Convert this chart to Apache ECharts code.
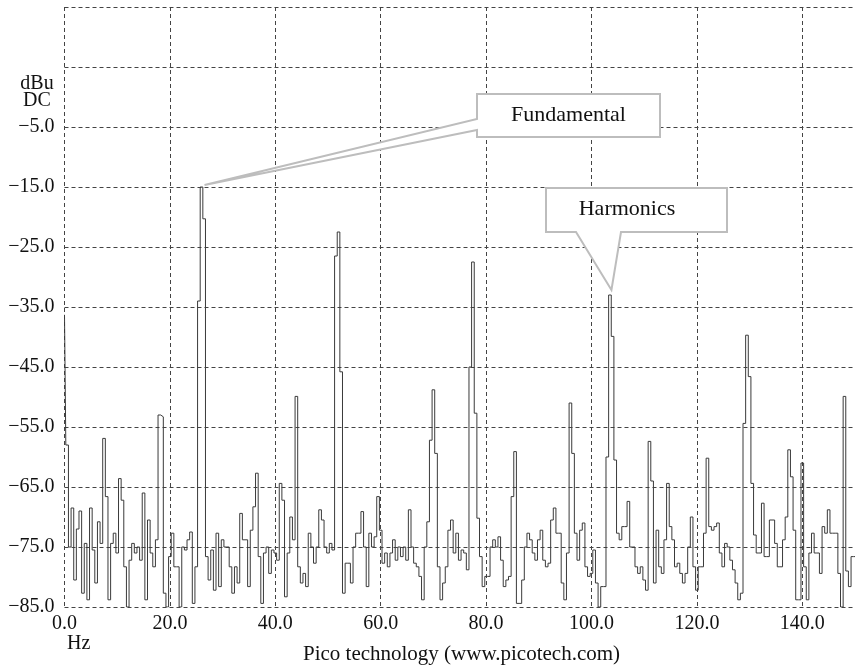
<!DOCTYPE html>
<html><head><meta charset="utf-8">
<script src="https://cdn.jsdelivr.net/npm/echarts@6/dist/echarts.min.js"></script>
<style>html,body{margin:0;padding:0;background:#fff}#c{width:855px;height:667px}</style>
</head><body><div id="c"></div>
<script>
// ---- data ----
const freqStart = 0;
const freqStep = 0.5;          // Hz per bin
const levels = [               // dBu per bin
 -36.3,-58,-75,-68.5,-80.5,-72,-69,-82.7,-74.4,-83.8,
 -68.5,-75.5,-81,-70.8,-74.4,-56.9,-66.6,-83.8,-74.4,-72.7,
 -76,-63.6,-67.2,-78.3,-85,-77.2,-74.4,-76,-75,-77.2,
 -66,-83.8,-70.5,-76,-78.3,-73.8,-53,-53.3,-82.7,-85,
 -76.6,-72.7,-78.3,-78.3,-85,-75,-75.5,-73.8,-72.5,-84.4,
 -78.3,-34,-15,-20.3,-76.6,-80.5,-75.5,-82.2,-72.7,-81.6,
 -73.8,-75,-75,-78.3,-82.7,-78.3,-81,-69.4,-73.8,-73.8,
 -81.6,-72.2,-68.3,-62.7,-76.6,-84.4,-76,-75,-79.4,-75.5,
 -76,-77.2,-64.4,-67.2,-83.3,-76,-70,-73.8,-49.9,-78.3,
 -81,-79.4,-81.6,-72.7,-75,-77.7,-75,-68.8,-70.5,-75,
 -76,-74.4,-75.5,-26.5,-22.5,-45.8,-82.7,-77.7,-77.7,-81,
 -75,-72.7,-72.7,-69.1,-75,-81.6,-72.7,-75,-73.3,-66.6,
 -72.2,-77.7,-76,-78.3,-76,-73.8,-77.2,-75,-76.6,-75,
 -77.2,-68.8,-75,-77.7,-78.3,-79.9,-83.8,-75,-70.8,-57.2,
 -48.8,-59.4,-78.3,-83.8,-81,-78.3,-72.2,-70.5,-76,-72.7,
 -77.2,-75.5,-76,-78.8,-45,-27.5,-52.7,-70.2,-76.6,-81.6,
 -79.9,-79.9,-75,-73.8,-75,-73.3,-77.2,-81.6,-80.5,-79.9,
 -66.6,-59.1,-84.4,-84.4,-80.5,-75,-72.7,-73.8,-76,-77.2,
 -73.8,-72.2,-77.2,-78.3,-77.7,-70.5,-68.5,-72.7,-72.7,-81,
 -83.8,-76,-51,-59.4,-72.7,-77.2,-72.2,-71,-78.3,-79.9,
 -79.4,-75.5,-81,-85,-81.6,-81.6,-60,-33,-39.9,-60.5,
 -72.7,-73.8,-71.6,-71.6,-67.4,-75,-75,-78.3,-79.4,-78.3,
 -80.5,-82.2,-57.4,-64,-81,-72.2,-78.3,-79.4,-73.8,-64.4,
 -71.6,-73.8,-78.3,-77.7,-79.4,-81,-79.4,-75,-70,-78.3,
 -82.2,-78.3,-78.3,-72.7,-60.2,-71.6,-72.2,-71.6,-71,-76,
 -78.3,-74.4,-75,-77.2,-78.8,-81,-83.8,-82.7,-54.4,-39.7,
 -46.6,-64.4,-73,-76,-76,-67.7,-76.6,-76.6,-70.5,-70.5,
 -74.4,-78.3,-78.3,-73.8,-70,-58.8,-63.3,-72.2,-83.8,-83.8,
 -61,-78.3,-83.8,-76,-72.7,-76,-76,-79.4,-71.6,-72.7,
 -68.8,-72.7,-72.7,-72.7,-79.4,-85,-49.9,-79,-81.6,-76.6,
 -76.6
];
const xTicks = [0, 20, 40, 60, 80, 100, 120, 140];
const yTicks = [-85, -75, -65, -55, -45, -35, -25, -15, -5];
const yUnitLines = ['dBu', 'DC'];
const xUnit = 'Hz';
const footer = 'Pico technology (www.picotech.com)';
const fundamental = { text: 'Fundamental', freq: 26, level: -15 };
const harmonic = { text: 'Harmonics', freq: 103.5, level: -33 };

// ---- chart ----
const FONT = 'Liberation Serif';
const chart = echarts.init(document.getElementById('c'), null, { renderer: 'canvas' });
const seriesData = levels.map((v, i) => [freqStart + i * freqStep, v]);
const dash = { color: '#444', width: 1, type: [4, 3] };

chart.setOption({
  animation: false,
  backgroundColor: '#fff',
  grid: { left: 64.5, right: 0, top: 7, bottom: 60, containLabel: false },
  xAxis: {
    type: 'value', min: 0, max: 150, interval: 20,
    axisLine: { show: false }, axisTick: { show: false },
    splitLine: { show: true, lineStyle: dash, showMaxLine: false },
    axisLabel: {
      margin: 7, color: '#111', fontFamily: FONT, fontSize: 20, showMaxLabel: false,
      formatter: v => xTicks.includes(v) ? v.toFixed(1) : ''
    }
  },
  yAxis: {
    type: 'value', min: -85, max: 15, interval: 10,
    axisLine: { show: false }, axisTick: { show: false },
    splitLine: { show: true, lineStyle: dash },
    axisLabel: {
      margin: 10, color: '#111', fontFamily: FONT, fontSize: 20,
      formatter: v => yTicks.includes(v) ? '\u2212' + Math.abs(v).toFixed(1) : ''
    }
  },
  series: [{
    type: 'line', data: seriesData, step: 'middle', showSymbol: false,
    lineStyle: { color: '#3a3a3a', width: 1 }, clip: true, z: 5
  }]
});

const fp = chart.convertToPixel({ gridIndex: 0 }, [fundamental.freq, fundamental.level]);
const hp = chart.convertToPixel({ gridIndex: 0 }, [harmonic.freq, harmonic.level]);
const box = { fill: '#fff', stroke: '#bdbdbd', lineWidth: 2 };
const fL = 477, fT = 94, fR = 660, fB = 137;
const hL = 546, hT = 188, hR = 727, hB = 232;
const txt = (x, y, s, size, align) => ({
  type: 'text', x: x, y: y, z: 110,
  style: { text: s, fill: '#111', font: size + 'px "' + FONT + '"', align: align || 'center', verticalAlign: 'middle' }
});

chart.setOption({
  graphic: [
    { type: 'polygon', z: 100, shape: { points: [[fL, fT], [fR, fT], [fR, fB], [fL, fB], [fL, 130], [fp[0] + 3, fp[1] - 2], [fL, 119]] }, style: box },
    txt((fL + fR) / 2, 115, fundamental.text, 22),
    { type: 'polygon', z: 100, shape: { points: [[hL, hT], [hR, hT], [hR, hB], [621, hB], [hp[0] + 1.5, hp[1] - 5], [576, hB], [hL, hB]] }, style: box },
    txt(627, 209, harmonic.text, 22),
    txt(37, 84, yUnitLines[0], 20),
    txt(37, 101, yUnitLines[1], 20),
    txt(67, 644, xUnit, 20, 'left'),
    txt(461.5, 654, footer, 21)
  ]
});
</script></body></html>
